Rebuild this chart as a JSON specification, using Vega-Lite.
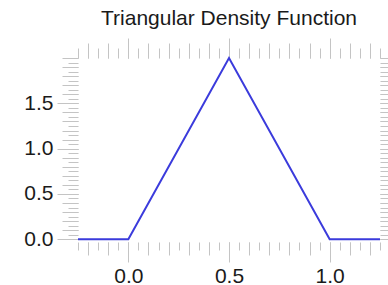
{
  "$schema": "https://vega.github.io/schema/vega-lite/v6.json",
  "width": 302,
  "height": 184,
  "autosize": {"type": "none"},
  "padding": {"left": 78, "top": 58, "right": 8, "bottom": 43},
  "background": "white",
  "title": {"text": "Triangular Density Function", "font": "Liberation Sans", "fontSize": 21, "fontWeight": "normal", "color": "#1a1a1a", "offset": 9},
  "config": {
    "view": {"stroke": null},
    "axis": {"domain": false, "grid": false, "tickColor": "#c4c4c4", "tickWidth": 1, "labelFont": "Liberation Sans", "labelFontSize": 21, "labelColor": "#1a1a1a", "title": null}
  },
  "data": {"values": [
    {"x": -0.25, "y": 0},
    {"x": 0, "y": 0},
    {"x": 0.5, "y": 2},
    {"x": 1, "y": 0},
    {"x": 1.25, "y": 0}
  ]},
  "resolve": {"axis": {"x": "independent", "y": "independent"}},
  "layer": [
    {
      "mark": {"type": "line", "opacity": 0},
      "encoding": {
        "x": {"field": "x", "type": "quantitative", "scale": {"domain": [-0.25, 1.25], "nice": false, "zero": false},
          "axis": {"orient": "bottom", "labels": false, "tickSize": 8, "values": [-0.25,-0.2,-0.15,-0.1,-0.05,0,0.05,0.1,0.15,0.2,0.25,0.3,0.35,0.4,0.45,0.5,0.55,0.6,0.65,0.7,0.75,0.8,0.85,0.9,0.95,1,1.05,1.1,1.15,1.2,1.25]}},
        "y": {"field": "y", "type": "quantitative", "scale": {"domain": [-0.03, 2.0], "nice": false, "zero": false},
          "axis": {"orient": "left", "labels": false, "tickSize": 10, "values": [0,0.05,0.1,0.15,0.2,0.25,0.3,0.35,0.4,0.45,0.5,0.55,0.6,0.65,0.7,0.75,0.8,0.85,0.9,0.95,1,1.05,1.1,1.15,1.2,1.25,1.3,1.35,1.4,1.45,1.5,1.55,1.6,1.65,1.7,1.75,1.8,1.85,1.9,1.95,2]}}
      }
    },
    {
      "mark": {"type": "line", "opacity": 0},
      "encoding": {
        "x": {"field": "x", "type": "quantitative", "scale": {"domain": [-0.25, 1.25], "nice": false, "zero": false},
          "axis": {"orient": "bottom", "labels": false, "tickSize": 13, "values": [-0.2,-0.1,0,0.1,0.2,0.3,0.4,0.5,0.6,0.7,0.8,0.9,1,1.1,1.2]}},
        "y": {"field": "y", "type": "quantitative", "scale": {"domain": [-0.03, 2.0], "nice": false, "zero": false},
          "axis": {"orient": "left", "labels": false, "tickSize": 16, "values": [0,0.1,0.2,0.3,0.4,0.5,0.6,0.7,0.8,0.9,1,1.1,1.2,1.3,1.4,1.5,1.6,1.7,1.8,1.9,2]}}
      }
    },
    {
      "mark": {"type": "line", "opacity": 0},
      "encoding": {
        "x": {"field": "x", "type": "quantitative", "scale": {"domain": [-0.25, 1.25], "nice": false, "zero": false},
          "axis": {"orient": "bottom", "labels": true, "tickSize": 20, "labelPadding": 3, "format": ".1f", "values": [0, 0.5, 1]}},
        "y": {"field": "y", "type": "quantitative", "scale": {"domain": [-0.03, 2.0], "nice": false, "zero": false},
          "axis": {"orient": "left", "labels": true, "tickSize": 21, "labelPadding": 4, "format": ".1f", "values": [0, 0.5, 1, 1.5]}}
      }
    },
    {
      "mark": {"type": "line", "opacity": 0},
      "encoding": {
        "x": {"field": "x", "type": "quantitative", "scale": {"domain": [-0.25, 1.25], "nice": false, "zero": false},
          "axis": {"orient": "top", "labels": false, "tickSize": 10, "values": [-0.25,-0.2,-0.15,-0.1,-0.05,0,0.05,0.1,0.15,0.2,0.25,0.3,0.35,0.4,0.45,0.5,0.55,0.6,0.65,0.7,0.75,0.8,0.85,0.9,0.95,1,1.05,1.1,1.15,1.2,1.25]}},
        "y": {"field": "y", "type": "quantitative", "scale": {"domain": [-0.03, 2.0], "nice": false, "zero": false},
          "axis": {"orient": "right", "labels": false, "tickSize": 10, "values": [0,0.05,0.1,0.15,0.2,0.25,0.3,0.35,0.4,0.45,0.5,0.55,0.6,0.65,0.7,0.75,0.8,0.85,0.9,0.95,1,1.05,1.1,1.15,1.2,1.25,1.3,1.35,1.4,1.45,1.5,1.55,1.6,1.65,1.7,1.75,1.8,1.85,1.9,1.95,2]}}
      }
    },
    {
      "mark": {"type": "line", "opacity": 0},
      "encoding": {
        "x": {"field": "x", "type": "quantitative", "scale": {"domain": [-0.25, 1.25], "nice": false, "zero": false},
          "axis": {"orient": "top", "labels": false, "tickSize": 15, "values": [-0.2,-0.1,0,0.1,0.2,0.3,0.4,0.5,0.6,0.7,0.8,0.9,1,1.1,1.2]}},
        "y": {"field": "y", "type": "quantitative", "scale": {"domain": [-0.03, 2.0], "nice": false, "zero": false},
          "axis": {"orient": "right", "labels": false, "tickSize": 16, "values": [0,0.1,0.2,0.3,0.4,0.5,0.6,0.7,0.8,0.9,1,1.1,1.2,1.3,1.4,1.5,1.6,1.7,1.8,1.9,2]}}
      }
    },
    {
      "mark": {"type": "line", "color": "#3b3bdc", "strokeWidth": 2},
      "encoding": {
        "x": {"field": "x", "type": "quantitative", "scale": {"domain": [-0.25, 1.25], "nice": false, "zero": false},
          "axis": {"orient": "top", "labels": false, "tickSize": 20, "values": [0, 0.5, 1]}},
        "y": {"field": "y", "type": "quantitative", "scale": {"domain": [-0.03, 2.0], "nice": false, "zero": false},
          "axis": {"orient": "right", "labels": false, "tickSize": 20, "values": [0, 0.5, 1, 1.5]}}
      }
    }
  ]
}
